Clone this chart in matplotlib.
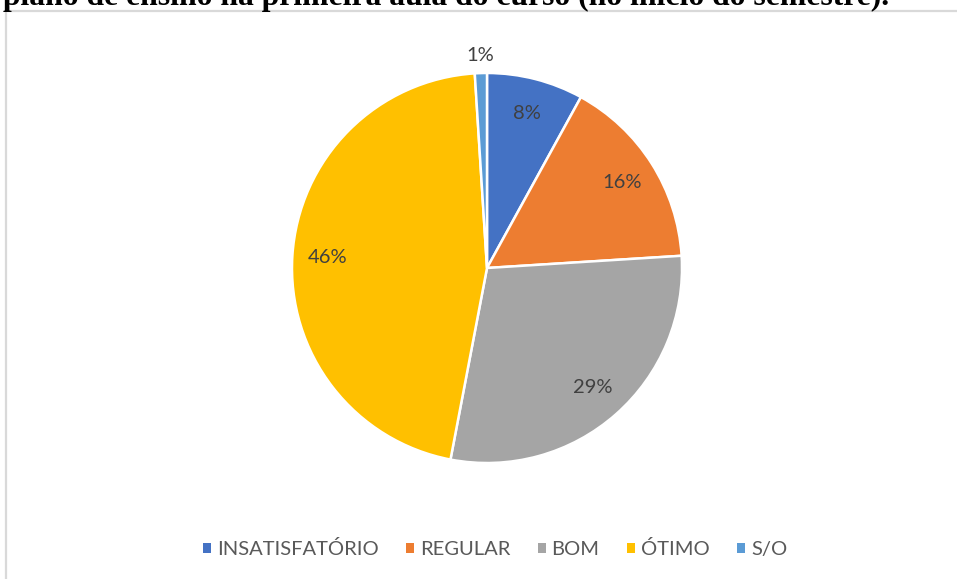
import numpy as np
import matplotlib
matplotlib.use("Agg")
import matplotlib.pyplot as plt
from matplotlib.lines import Line2D
from matplotlib.patches import Patch

# data
categories = ["INSATISFATÓRIO", "REGULAR", "BOM", "ÓTIMO", "S/O"]
percentages = [8, 16, 29, 46, 1]
colors = ["#4472C4", "#ED7D31", "#A5A5A5", "#FFC000", "#5B9BD5"]
title_text = "plano de ensino na primeira aula do curso (no início do semestre)."

W, H = 957, 579
fig = plt.figure(figsize=(W / 100, H / 100), dpi=100)
renderer = fig.canvas.get_renderer()

# chopped-off document caption above the chart frame, spanning x=3..890
title = fig.text(3 / W, 1 - 5 / H, title_text, family="Liberation Serif",
                 fontweight="bold", fontsize=20, color="black",
                 va="baseline", ha="left")
natural = title.get_window_extent(renderer).width
title.set_fontsize(20 * 887 / natural)

# chart frame (only top and left edges visible)
border = "#D9D9D9"
fig.add_artist(Line2D([6 / W, 1], [1 - 11 / H, 1 - 11 / H], color=border, lw=1.6,
                      transform=fig.transFigure))
fig.add_artist(Line2D([6 / W, 6 / W], [1 - 11 / H, 0], color=border, lw=1.6,
                      transform=fig.transFigure))

# pie axes: centre (487, 268), radius 195 px
cx, cy, r = 487, 268, 195
ax = fig.add_axes([(cx - r) / W, (H - cy - r) / H, 2 * r / W, 2 * r / H])
wedges, texts, autotexts = ax.pie(
    percentages, colors=colors, startangle=90, counterclock=False,
    autopct=lambda p: f"{p:.0f}%", pctdistance=0.82,
    wedgeprops=dict(edgecolor="white", linewidth=1.8),
    textprops=dict(family="Lato", fontsize=14.5, color="#404040"),
)
# the tiny slice label sits just outside the pie
small = wedges[-1]
mid = np.deg2rad((small.theta1 + small.theta2) / 2)
autotexts[-1].set_position((1.09 * np.cos(mid), 1.09 * np.sin(mid)))
ax.set_xlim(-1, 1)
ax.set_ylim(-1, 1)
ax.set_aspect("equal")
ax.axis("off")

handles = [Patch(facecolor=c, edgecolor="none") for c in colors]
fig.legend(handles, categories, loc="center", bbox_to_anchor=(495 / W, 1 - 549 / H),
           ncol=5, frameon=False, handlelength=0.4, handleheight=0.4,
           handletextpad=0.3, columnspacing=1.35,
           prop=dict(family="Lato", size=14.5), labelcolor="#595959")

fig.savefig("out.png", dpi=100)
